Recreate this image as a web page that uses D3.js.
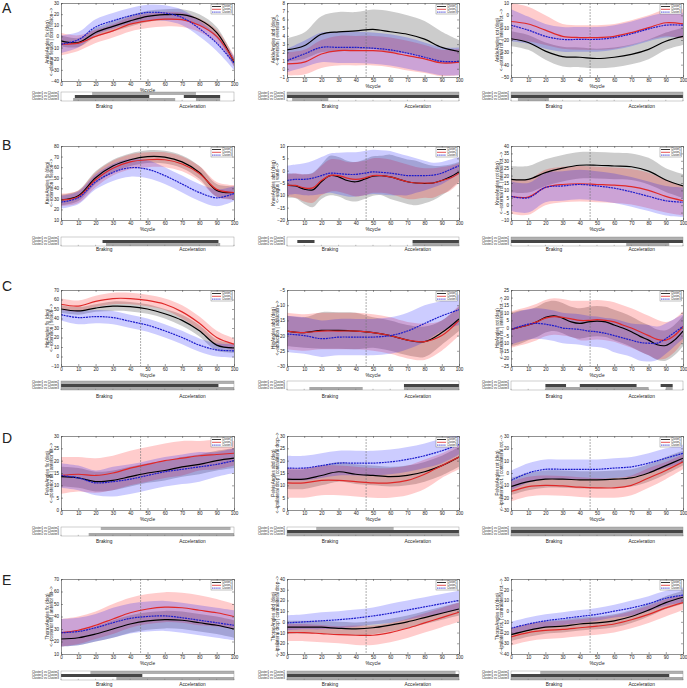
<!DOCTYPE html>
<html>
<head>
<meta charset="utf-8">
<script src="https://cdn.jsdelivr.net/npm/d3@7"></script>
<style>
  body { margin: 0; background: #fff; }
  text { font-family: Arial, "Liberation Sans", sans-serif; fill: #222; }
</style>
</head>
<body>
<svg id="chart" width="687" height="688"></svg>
<script>
// x grids (% of cycle)
const cycle = d3.range(0, 101, 10);
const cycleFine = d3.range(0, 101, 5);
const clusters = ['Cluster1', 'Cluster2', 'Cluster3'];
const comparisons = ['Cluster1 vs Cluster2', 'Cluster1 vs Cluster3', 'Cluster2 vs Cluster3'];
const rowLetters = ['A', 'B', 'C', 'D', 'E'];
const stanceSplit = 46;

// ---- Ankle ----
const ankleFlx = {
  x: cycle,
  mean: [[-4, -5.5, 3.5, 9, 14, 18, 19.5, 19.5, 15, 3.5, -23],
         [-7, -6, 0, 5, 11, 14, 15.5, 15, 10, 0, -22],
         [-7, -3, 8.5, 14, 18.5, 21.5, 21, 17, 7, -6, -24]],
  sd: [[5, 4, 4, 4.5, 5, 5, 5, 5, 5, 5, 4],
       [10, 7, 6, 6, 6.5, 6.5, 6.5, 6.5, 6, 6, 5],
       [8, 7, 7, 7, 7, 7, 7, 7, 7, 7, 6]]
};
const ankleAbd = {
  x: cycle,
  mean: [[2.3, 2.8, 4.2, 4.5, 4.6, 4.8, 4.5, 4.2, 3.6, 2.6, 2.1],
         [0.6, 0.8, 1.8, 2.2, 2.2, 2.2, 2.0, 1.6, 1.2, 0.7, 0.8],
         [1.0, 1.8, 2.6, 2.6, 2.6, 2.5, 2.3, 1.9, 1.4, 0.9, 0.9]],
  sd: [[1.4, 1.6, 2.2, 2.4, 2.3, 2.4, 2.5, 2.3, 2.2, 1.9, 1.4],
       [1.4, 1.5, 1.7, 1.8, 1.8, 1.8, 1.8, 1.8, 1.7, 1.6, 1.6],
       [1.4, 1.6, 1.8, 1.9, 1.9, 1.9, 1.9, 1.9, 1.8, 1.7, 1.7]]
};
const ankleRot = {
  x: cycle,
  mean: [[-19, -22, -29, -33.5, -34, -35, -34, -31.7, -27.6, -21, -17],
         [-5, -7, -12, -17, -18, -18, -17, -14, -10, -6, -7],
         [-8, -12, -17, -19.5, -19.5, -19.5, -18, -15, -11, -8, -8]],
  sd: [[6, 6, 7, 8, 8, 8, 8, 8, 8, 7, 7],
       [15, 14, 12, 10, 10, 10, 10, 10, 10, 11, 12],
       [13, 11, 10, 10, 10, 10, 10, 10, 10, 10, 10]]
};
// ---- Knee ----
const kneeFlx = {
  x: cycle,
  mean: [[29, 33, 50, 61, 67, 70, 69.5, 65, 55, 38, 36],
         [29, 32, 48, 59, 65, 67, 67, 63, 54, 39, 36],
         [27, 31, 46, 55, 59.5, 58, 52, 44, 36, 31, 35]],
  sd: [[5, 5, 6, 6, 6, 6, 6, 6, 6, 6, 6],
       [6, 6, 7, 7, 7, 7, 7, 7, 7, 7, 7],
       [6, 6, 7, 8, 8.5, 8.5, 8, 8, 8, 8, 7]]
};
const kneeAbd = {
  x: cycleFine,
  mean: [[-6, -6.2, -7.5, -7.8, -4.5, -2, -2.5, -4, -4.5, -3.5, -2.2, -2, -2.5, -3.5, -4.5, -5, -5.2, -5, -4, -2.5, -0.5],
         [-6, -6, -7, -7, -4, -2, -2, -3, -3.5, -3, -2, -2, -2.5, -3.5, -4.5, -5, -5, -5, -4, -3, -1],
         [-4, -3.5, -3.5, -3, -2, -1, -1.2, -1.5, -1.5, -1, -0.5, -0.7, -1, -1.5, -2, -2, -2, -1.8, -1, 0.5, 2]],
  sd: [[5, 5, 6, 7, 7, 8, 8, 8, 8, 8, 8, 8, 9, 9, 9, 9, 8, 7, 6, 5, 4],
       [4.5, 5, 5.5, 6, 6, 6.5, 6.5, 6.5, 7, 7, 7, 7, 7, 7, 7, 6.5, 6, 6, 5.5, 5, 4],
       [6, 6, 6.5, 7, 7.5, 8, 8.5, 9, 9, 9, 9, 9, 9, 8.5, 8, 7, 6, 5, 4.5, 4, 3.5]]
};
const kneeRot = {
  x: cycle,
  mean: [[17.5, 17.5, 22, 25, 27, 27, 26.5, 26, 23, 17, 13],
         [6, 5.5, 12, 14, 14.5, 14, 13.5, 12.5, 10, 6, 3],
         [6, 5, 12, 13, 14, 13, 11.5, 9, 6, 3, 2]],
  sd: [[9, 9, 9, 9, 9, 9, 9, 9, 9, 8, 8],
       [12, 12, 12, 12, 12, 12, 12, 12, 12, 11, 10],
       [10, 10, 10, 10, 10, 10, 10, 10, 10, 10, 10]]
};
// ---- Hip ----
const hipFlx = {
  x: cycle,
  mean: [[50, 48, 51, 53, 52.5, 50, 45, 38, 27, 12, 9],
         [55, 53, 58, 61, 61, 59, 55, 47, 35, 20, 13],
         [44, 41, 42, 41, 37, 33, 27, 20, 12, 7, 6]],
  sd: [[4, 4, 4, 5, 5, 5, 5, 6, 6, 6, 5],
       [6, 6, 6, 6, 6, 6, 6, 7, 7, 7, 6],
       [6, 7, 7, 7, 7, 7, 7, 7, 7, 7, 7]]
};
const hipAbd = {
  x: cycle,
  mean: [[-18.5, -19, -18.3, -18.3, -18.5, -19, -20, -21.5, -22, -19, -14.5],
         [-18.5, -19, -18.5, -18.5, -18.5, -19, -20, -21.5, -22, -20, -15],
         [-19.5, -20, -21, -20.5, -20.5, -20.5, -20, -18.5, -16, -13.5, -11.5]],
  sd: [[5, 5, 6, 6, 6, 5, 5, 5, 5, 4, 4],
       [6, 6, 6, 6, 6, 6, 6, 6, 6, 5, 5],
       [6, 6, 6, 6, 6, 6, 6, 6, 6, 5, 5]]
};
const hipRot = {
  x: cycleFine,
  mean: [[-1, 0.5, 2, 4, 7, 8, 6.5, 4, 3, 4, 4.5, 4, 2, 0, -2.5, -5.5, -8, -11, -11.5, -8, -2],
         [-1, 0.5, 2, 4, 6.5, 7.5, 7, 6, 5, 5, 5.5, 5, 4, 2, 0, -2.5, -5, -7.5, -8, -5, 1],
         [-1, 1, 2.5, 3, 2.5, 1.5, 0, -0.5, -1, -2, -2.5, -3.5, -5, -6.5, -8, -9.5, -10, -10, -7, -3, 1]],
  sd: [[11, 11, 10, 10, 10, 10, 10, 10, 10, 10, 10, 10, 10, 10, 10, 10, 10, 10, 10, 10, 10],
       [12, 12, 12, 12, 12, 12, 12, 12, 13, 13, 13, 13, 13, 13, 13, 13, 13, 13, 12, 11, 10],
       [10, 10, 10, 10, 10, 10, 10, 10, 10, 10, 10, 10, 11, 11, 11, 12, 12, 11, 10, 9, 8]]
};
// ---- Pelvis ----
const pelvisFlx = {
  x: cycle,
  mean: [[13.5, 13, 11.5, 12, 13.5, 15, 16, 17.5, 18.5, 20, 21],
         [14, 14.5, 14, 15, 17, 18.5, 20, 21, 22, 22.5, 23],
         [14, 13, 11, 11.5, 12.5, 14, 15.5, 16.5, 17.5, 18.5, 20]],
  sd: [[4, 4, 4, 4, 4, 4, 4, 4, 4, 4, 4],
       [7.5, 7, 7, 7, 7, 7, 7, 7, 6, 6, 5],
       [5, 5, 5, 6, 6, 6, 6, 6, 6, 5, 5]]
};
const pelvisAbd = {
  x: cycle,
  mean: [[12.5, 12.5, 14, 15.5, 14.5, 14, 13.5, 14, 15.5, 18, 21.5],
         [11, 11, 12, 12, 11.5, 11, 11, 12, 14.5, 18, 21.5],
         [17, 17, 18, 19, 19, 19, 19.5, 20.5, 22, 24, 26.5]],
  sd: [[4, 4, 4, 4, 4, 4, 4, 4, 4, 4, 4],
       [6, 6, 6, 6, 6, 6, 6, 6, 6, 5, 5],
       [5, 5, 5, 5, 5, 5, 5, 5, 5, 5, 4]]
};
const pelvisRot = {
  x: cycle,
  mean: [[-11, -7, -5, -5, -5.5, -5.5, -5, -4, 0, 6, 12],
         [-15, -11, -10, -10.5, -11.5, -12, -12, -10, -4, 2, 9],
         [-6, 0, 3, 3, 3, 3, 4, 5, 8, 12, 16]],
  sd: [[7, 7, 7, 7, 7, 7, 7, 7, 7, 7, 6],
       [8, 8, 8, 8, 8, 8, 8, 8, 8, 7, 6],
       [8, 8, 8, 8, 8, 8, 8, 8, 8, 8, 7]]
};
// ---- Thorax ----
const thoraxFlx = {
  x: cycle,
  mean: [[22, 23, 26, 30, 34, 36.5, 37.5, 37, 35, 33, 30],
         [27, 29, 33, 38, 43, 46, 47.5, 47, 45, 43, 40],
         [27, 28, 31, 35, 38.5, 40, 40.5, 39, 37, 35, 33]],
  sd: [[6, 6, 6, 7, 7, 7, 7, 7, 7, 7, 7],
       [11, 11, 11, 12, 12, 12, 12, 12, 12, 11, 10],
       [11, 11, 11, 12, 12, 12, 12, 12, 12, 12, 12]]
};
const thoraxAbd = {
  x: cycle,
  mean: [[-5, -5, -5, -6, -6.5, -5.5, -3, 0, 4, 8, 12],
         [-10, -10, -11, -12, -12.5, -12.5, -10, -6, -1, 4, 9],
         [-1, 0, 1, 2, 3.5, 5.5, 8, 11, 14, 17, 20]],
  sd: [[6, 6, 6, 6, 6, 6, 6, 6, 6, 6, 6],
       [8, 8, 8, 8, 9, 9, 9, 9, 9, 9, 9],
       [7, 7, 8, 8, 8, 8, 9, 9, 9, 9, 9]]
};
const thoraxRot = {
  x: cycle,
  mean: [[-22, -18, -15, -14, -12, -11, -9, -5, 1, 8, 13],
         [-24, -20, -18, -17, -15.5, -14, -12, -8, -3, 3, 8],
         [-16, -12, -9, -7, -5, -3, 0, 3, 7, 12, 15]],
  sd: [[6, 6, 6, 6, 6, 6, 6, 6, 6, 6, 6],
       [8, 8, 8, 8, 8, 8, 8, 8, 8, 8, 7],
       [6, 6, 6, 6, 6, 6, 6, 7, 7, 7, 7]]
};

// significance intervals per panel: [C1vC2, C1vC3, C2vC3]
const sigAnkleFlx = [[[18, 78]], [[8, 51], [71, 92]], [[7, 66], [78, 92]]];
const sigAnkleAbd = [[[0, 100]], [[0, 100]], [[3, 24]]];
const sigAnkleRot = [[[0, 100]], [[0, 100]], [[4, 22]]];
const sigKneeFlx = [[], [[24, 91]], [[26, 92]]];
const sigKneeAbd = [[], [[6, 16], [73, 100]], [[73, 100]]];
const sigKneeRot = [[[0, 100]], [[0, 100]], [[67, 92]]];
const sigHipFlx = [[[0, 100]], [[0, 91]], [[0, 100]]];
const sigHipAbd = [[], [[68, 100]], [[13, 44], [68, 100]]];
const sigHipRot = [[], [[20, 32], [40, 73], [87, 94]], [[20, 80], [90, 94]]];
const sigPelvisFlx = [[[23, 98]], [], [[16, 100]]];
const sigPelvisAbd = [[[17, 62]], [[0, 100]], [[0, 100]]];
const sigPelvisRot = [[[0, 100]], [[0, 100]], [[0, 100]]];
const sigThoraxFlx = [[[17, 100]], [[0, 47]], [[32, 100]]];
const sigThoraxAbd = [[[0, 98]], [[0, 100]], [[0, 100]]];
const sigThoraxRot = [[[17, 100]], [[0, 92]], [[0, 100]]];

// panel definitions, row by row
const panels = [
  { d: ankleFlx, sig: sigAnkleFlx, dom: [-40, 30], step: 10, lab: ['AnkleAngles flx (deg)', '<--plantar flexion | dorsi flexion-->'] },
  { d: ankleAbd, sig: sigAnkleAbd, dom: [-1, 8], step: 1, lab: ['AnkleAngles abd (deg)', '<--inversion | eversion-->'] },
  { d: ankleRot, sig: sigAnkleRot, dom: [-50, 10], step: 10, lab: ['AnkleAngles rot (deg)', '<--external rot. | internal rot.-->'] },
  { d: kneeFlx, sig: sigKneeFlx, dom: [10, 80], step: 10, lab: ['KneeAngles flx (deg)', '<--extension | flexion-->'] },
  { d: kneeAbd, sig: sigKneeAbd, dom: [-20, 10], step: 5, lab: ['KneeAngles abd (deg)', '<--valgus | varus-->'] },
  { d: kneeRot, sig: sigKneeRot, dom: [-10, 40], step: 5, lab: ['KneeAngles rot (deg)', '<--external rot. | internal rot.-->'] },
  { d: hipFlx, sig: sigHipFlx, dom: [-10, 70], step: 10, lab: ['HipAngles flx (deg)', '<--extension | flexion-->'] },
  { d: hipAbd, sig: sigHipAbd, dom: [-30, -5], step: 5, lab: ['HipAngles abd (deg)', '<--abduction | adduction-->'] },
  { d: hipRot, sig: sigHipRot, dom: [-25, 25], step: 5, lab: ['HipAngles rot (deg)', '<--external rot. | internal rot.-->'] },
  { d: pelvisFlx, sig: sigPelvisFlx, dom: [0, 30], step: 5, lab: ['PelvisAngles flx (deg)', '<--posterior tilt | anterior tilt-->'] },
  { d: pelvisAbd, sig: sigPelvisAbd, dom: [0, 30], step: 5, lab: ['PelvisAngles abd (deg)', '<--ipsilateral drop | contralateral drop-->'] },
  { d: pelvisRot, sig: sigPelvisRot, dom: [-30, 30], step: 10, lab: ['PelvisAngles rot (deg)', '<--ipsilateral rot. | contralateral rot.-->'] },
  { d: thoraxFlx, sig: sigThoraxFlx, dom: [10, 70], step: 10, lab: ['ThoraxAngles flx (deg)', '<--posterior tilt | anterior tilt-->'] },
  { d: thoraxAbd, sig: sigThoraxAbd, dom: [-30, 40], step: 10, lab: ['ThoraxAngles abd (deg)', '<--ipsilateral drop | contralateral drop-->'] },
  { d: thoraxRot, sig: sigThoraxRot, dom: [-40, 30], step: 10, lab: ['ThoraxAngles rot (deg)', '<--ipsilateral rot. | contralateral rot.-->'] }
];

// layout
const colX = [[61, 234], [287, 459], [511, 683]];
const rowBox = [
  { t: 3, b: 77, sig: 92, phase: 108, letter: 13 },
  { t: 146, b: 220, sig: 237, phase: 251, letter: 150 },
  { t: 290, b: 366, sig: 381, phase: 398, letter: 291 },
  { t: 436, b: 510, sig: 527, phase: 543, letter: 443 },
  { t: 579, b: 654, sig: 671, phase: 685.5, letter: 585 }
];

const lineColors = ['#000000', '#e02828', '#1c1ccc'];
const bandColors = ['rgba(0,0,0,0.2)', 'rgba(255,0,0,0.2)', 'rgba(0,0,255,0.2)'];
const sigColors = ['#b0b0b0', '#454545', '#a8a8a8'];

const svg = d3.select('#chart');
const curve = d3.curveCatmullRom.alpha(0.5);

rowLetters.forEach((l, r) => {
  svg.append('text').attr('x', 2).attr('y', rowBox[r].letter)
    .attr('font-size', 14).text(l);
});

panels.forEach((p, i) => {
  const r = Math.floor(i / 3), c = i % 3;
  const box = { l: colX[c][0], r: colX[c][1], t: rowBox[r].t, b: rowBox[r].b };
  if (i === 0) box.b = 81;
  const g = svg.append('g');
  const x = d3.scaleLinear().domain([0, 100]).range([box.l, box.r]);
  const y = d3.scaleLinear().domain(p.dom).range([box.b, box.t]);
  const xs = p.d.x;

  const clipId = 'clip' + i;
  g.append('clipPath').attr('id', clipId).append('rect')
    .attr('x', box.l).attr('y', box.t).attr('width', box.r - box.l).attr('height', box.b - box.t);
  const plot = g.append('g').attr('clip-path', `url(#${clipId})`);

  // sd bands
  [0, 1, 2].forEach(k => {
    const area = d3.area()
      .x((v, j) => x(xs[j]))
      .y0((v, j) => y(v - p.d.sd[k][j]))
      .y1((v, j) => y(v + p.d.sd[k][j]))
      .curve(curve);
    plot.append('path').datum(p.d.mean[k]).attr('d', area).attr('fill', bandColors[k]);
  });

  // stance split line
  plot.append('line')
    .attr('x1', x(stanceSplit)).attr('x2', x(stanceSplit))
    .attr('y1', box.t).attr('y2', box.b)
    .attr('stroke', '#777').attr('stroke-width', 0.6).attr('stroke-dasharray', '2,1');

  // mean lines
  [0, 1, 2].forEach(k => {
    const line = d3.line().x((v, j) => x(xs[j])).y(v => y(v)).curve(curve);
    plot.append('path').datum(p.d.mean[k]).attr('d', line)
      .attr('fill', 'none').attr('stroke', lineColors[k]).attr('stroke-width', 1.2)
      .attr('stroke-dasharray', k === 2 ? '2,0.8' : null);
  });

  // axes, MATLAB-like inward ticks
  const yTicks = d3.range(p.dom[0], p.dom[1] + p.step / 2, p.step);
  const styleAxis = a => {
    a.selectAll('path.domain').attr('stroke', '#444').attr('stroke-width', 0.6);
    a.selectAll('.tick line').attr('stroke', '#444').attr('stroke-width', 0.5);
    a.selectAll('text').attr('font-size', 4.6).attr('fill', '#333').attr('font-family', 'Arial, Liberation Sans, sans-serif');
  };
  g.append('g').attr('transform', `translate(0,${box.b})`)
    .call(d3.axisBottom(x).tickValues(cycle).tickSizeInner(-2).tickSizeOuter(0).tickPadding(2))
    .call(styleAxis);
  g.append('g').attr('transform', `translate(0,${box.t})`)
    .call(d3.axisTop(x).tickValues(cycle).tickSizeInner(-2).tickSizeOuter(0).tickFormat(''))
    .call(styleAxis);
  g.append('g').attr('transform', `translate(${box.l},0)`)
    .call(d3.axisLeft(y).tickValues(yTicks).tickSizeInner(-2).tickSizeOuter(0).tickPadding(2))
    .call(styleAxis);
  g.append('g').attr('transform', `translate(${box.r},0)`)
    .call(d3.axisRight(y).tickValues(yTicks).tickSizeInner(-2).tickSizeOuter(0).tickFormat(''))
    .call(styleAxis);

  g.append('text').attr('x', x(50)).attr('y', box.b + 11)
    .attr('text-anchor', 'middle').attr('font-size', 4.8).text('%cycle');

  // y label, two lines
  const yl = g.append('g')
    .attr('transform', `translate(${box.l - 12},${(box.t + box.b) / 2}) rotate(-90)`);
  p.lab.forEach((t, j) => {
    yl.append('text').attr('y', j * 4.4).attr('text-anchor', 'middle')
      .attr('font-size', 4.6).text(t);
  });

  // legend
  const lg = g.append('g').attr('transform', `translate(${box.r - 23},${box.t + 1.5})`);
  lg.append('rect').attr('width', 21.5).attr('height', 9.5)
    .attr('fill', '#fff').attr('stroke', '#666').attr('stroke-width', 0.4);
  clusters.forEach((name, k) => {
    const yy = 2 + k * 2.8;
    lg.append('line').attr('x1', 1).attr('x2', 10).attr('y1', yy).attr('y2', yy)
      .attr('stroke', lineColors[k]).attr('stroke-width', 0.8)
      .attr('stroke-dasharray', k === 2 ? '1.5,0.6' : null);
    lg.append('text').attr('x', 11).attr('y', yy + 0.9).attr('font-size', 2.6).text(name);
  });

  // significance block
  const sTop = rowBox[r].sig;
  const rowH = 3;
  const sg = g.append('g');
  p.sig.forEach((segs, k) => {
    segs.forEach(s => {
      sg.append('rect').attr('x', x(s[0])).attr('width', x(s[1]) - x(s[0]))
        .attr('y', sTop + k * rowH).attr('height', rowH).attr('fill', sigColors[k]);
    });
    sg.append('text').attr('x', box.l - 2).attr('y', sTop + k * rowH + 2.4)
      .attr('text-anchor', 'end').attr('font-size', 3).text(comparisons[k]);
  });
  sg.append('rect').attr('x', x(0)).attr('y', sTop).attr('width', x(100) - x(0)).attr('height', rowH * 3)
    .attr('fill', 'none').attr('stroke', '#888').attr('stroke-width', 0.4);
  sg.selectAll('.st').data(cycle).join('line')
    .attr('x1', d => x(d)).attr('x2', d => x(d))
    .attr('y1', sTop + rowH * 3 - 1.2).attr('y2', sTop + rowH * 3)
    .attr('stroke', '#666').attr('stroke-width', 0.4);

  g.append('text').attr('x', x(25)).attr('y', rowBox[r].phase)
    .attr('text-anchor', 'middle').attr('font-size', 4.8).attr('fill', '#222').text('Braking');
  g.append('text').attr('x', x(76)).attr('y', rowBox[r].phase)
    .attr('text-anchor', 'middle').attr('font-size', 4.8).attr('fill', '#222').text('Acceleration');
});
</script>
</body>
</html>
